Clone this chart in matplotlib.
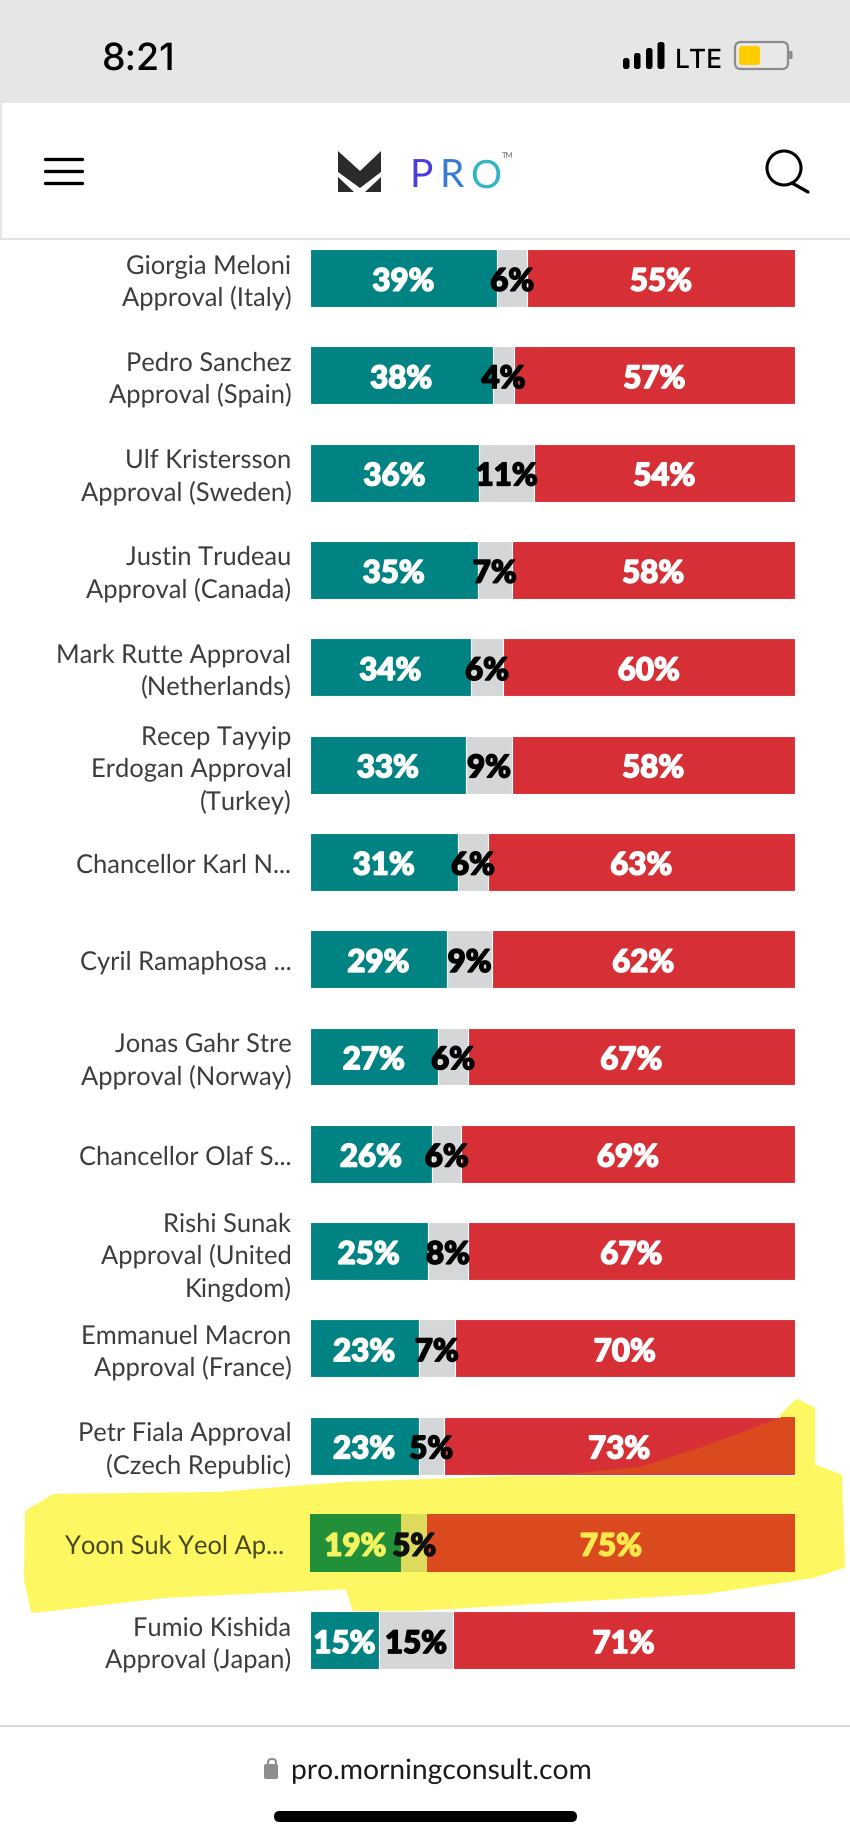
import matplotlib
matplotlib.use("Agg")
import matplotlib.pyplot as plt
from matplotlib.patches import Polygon, Rectangle, FancyBboxPatch, Circle
from matplotlib.transforms import ScaledTranslation
import matplotlib.patheffects as pe

plt.rcParams["text.hinting"] = "no_hinting"

leaders = ["Giorgia Meloni\nApproval (Italy)", "Pedro Sanchez\nApproval (Spain)", "Ulf Kristersson\nApproval (Sweden)",
           "Justin Trudeau\nApproval (Canada)", "Mark Rutte Approval\n(Netherlands)", "Recep Tayyip\nErdogan Approval\n(Turkey)",
           "Chancellor Karl N...", "Cyril Ramaphosa ...", "Jonas Gahr Stre\nApproval (Norway)", "Chancellor Olaf S...",
           "Rishi Sunak\nApproval (United\nKingdom)", "Emmanuel Macron\nApproval (France)", "Petr Fiala Approval\n(Czech Republic)",
           "Yoon Suk Yeol Ap...", "Fumio Kishida\nApproval (Japan)"]
approve_labels = [39, 38, 36, 35, 34, 33, 31, 29, 27, 26, 25, 23, 23, 19, 15]
unsure_labels = [6, 4, 11, 7, 6, 9, 6, 9, 6, 6, 8, 7, 5, 5, 15]
disapprove_labels = [55, 57, 54, 58, 60, 58, 63, 62, 67, 69, 67, 70, 73, 75, 71]
# bar lengths as measured on the picture (percent of the full bar)
approve_len = [38.7, 37.8, 35.0, 34.7, 33.3, 32.3, 30.6, 28.4, 26.5, 25.3, 24.4, 22.5, 22.5, 18.9, 14.4]
unsure_len = [6.2, 4.4, 11.3, 7.0, 6.6, 9.4, 6.2, 9.2, 6.2, 6.0, 8.3, 7.5, 5.2, 5.4, 15.1]
disapprove_len = [55.1, 57.8, 53.7, 58.3, 60.1, 58.3, 63.2, 62.4, 67.3, 68.7, 67.3, 70.0, 72.3, 75.7, 70.5]

TEAL, GREY, RED = "#008382", "#D4D6D8", "#D62F35"
TXT = "#3B3D40"
FONT = "Lato"
W, H = 850, 1840

fig = plt.figure(figsize=(W / 100, H / 100), dpi=100, facecolor="white")

# ---------- page chrome, in pixel coordinates ----------
bg = fig.add_axes([0, 0, 1, 1], zorder=0)
bg.set_xlim(0, W); bg.set_ylim(H, 0); bg.axis("off")
bg.add_patch(Rectangle((0, 0), W, 104, fc="#E6E6E6", ec="none"))
bg.add_patch(Rectangle((0, 104), 2, 136, fc="#E6E6E6", ec="none"))
bg.add_patch(Rectangle((0, 239), W, 2, fc="#E2E3E4", ec="none"))
bg.add_patch(Rectangle((0, 1726), W, 2, fc="#D9D9D9", ec="none"))

bg.text(138.5, 57, "8:21", fontsize=27, family="Inter", weight="medium", color="black", ha="center", va="center_baseline")
for x0, x1, top in [(623, 629.5, 59), (634, 640.5, 54), (646, 652.5, 49), (657.5, 664.5, 43)]:
    bg.add_patch(FancyBboxPatch((x0 + 2, top + 2), x1 - x0 - 4, 70 - top - 4, boxstyle="round,pad=2,rounding_size=2.5", fc="black", ec="none"))
bg.text(699, 58, "LTE", fontsize=19, family="Inter", weight="medium", color="black", ha="center", va="center_baseline")
bg.add_patch(FancyBboxPatch((739, 47), 45, 19, boxstyle="round,pad=4,rounding_size=6", fc="#E8E8E8", ec="#8C8C8C", lw=1.6))
bg.add_patch(FancyBboxPatch((741, 49), 17, 15, boxstyle="round,pad=2,rounding_size=3", fc="#FFCC00", ec="none"))
bg.add_patch(FancyBboxPatch((790, 53), 1.5, 6, boxstyle="round,pad=1,rounding_size=1", fc="#8C8C8C", ec="none"))

for y in (160, 172, 184):
    bg.plot([45, 82], [y, y], color="black", lw=2.4, solid_capstyle="round")
bg.add_patch(Polygon([(338, 152), (360, 172), (381, 152), (381, 173), (360, 189), (338, 173)], fc="#2B2B2B", ec="none"))
bg.add_patch(Polygon([(338, 178), (354, 193), (338, 193)], fc="#2B2B2B", ec="none"))
bg.add_patch(Polygon([(381, 178), (365, 193), (381, 193)], fc="#2B2B2B", ec="none"))
for x, s, c in [(421, "P", "#4B3DDB"), (452, "R", "#3A7BD2"), (486, "O", "#2FB6C0")]:
    bg.text(x, 173, s, fontsize=28, family=FONT, weight="normal", color=c, ha="center", va="center_baseline")
bg.text(508, 156, "TM", fontsize=5.5, family=FONT, color="#666666", ha="center", va="center")
bg.add_patch(Circle((784, 169), 17, fc="none", ec="black", lw=2.2))
bg.plot([792, 808], [184, 193], color="black", lw=2.4, solid_capstyle="round")

bg.add_patch(FancyBboxPatch((266, 1767), 10, 11, boxstyle="round,pad=2,rounding_size=2", fc="#8E8E8E", ec="none"))
bg.add_patch(FancyBboxPatch((268, 1760), 8, 10, boxstyle="round,pad=0,rounding_size=3.5", fc="none", ec="#8E8E8E", lw=1.5))
bg.text(291, 1769, "pro.morningconsult.com", fontsize=20.3, family=FONT, color="#1A1A1A", ha="left", va="center_baseline")
bg.add_patch(FancyBboxPatch((274, 1812), 303, 11, boxstyle="round,pad=0,rounding_size=5.5", fc="black", ec="none", mutation_aspect=1))

# highlighter stroke
highlight = Polygon([(27, 1513), (54, 1497), (217, 1495), (347, 1485), (540, 1478), (640, 1468), (705, 1447), (780, 1419),
                     (797, 1402), (813, 1410), (813, 1467), (840, 1477), (843, 1567), (813, 1577), (705, 1593), (379, 1612),
                     (355, 1612), (347, 1588), (163, 1597), (33, 1612), (26, 1580)],
                    fc="#FDF862", ec="#FDF862", lw=3, joinstyle="round")
bg.add_patch(highlight)

# ---------- chart ----------
top_px, bottom_px = 230.4, 1690.0
ax = fig.add_axes([309.5 / W, 1 - bottom_px / H, 485 / W, (bottom_px - top_px) / H], zorder=1)
ax.patch.set_alpha(0)
ypos = list(range(len(leaders)))
left2 = [a + u for a, u in zip(approve_len, unsure_len)]
BAR_H = 0.595
bar_kw = dict(height=BAR_H, edgecolor="white", linewidth=0.8)
b1 = ax.barh(ypos, approve_len, color=TEAL, **bar_kw)
b2 = ax.barh(ypos, unsure_len, left=approve_len, color=GREY, **bar_kw)
b3 = ax.barh(ypos, disapprove_len, left=left2, color=RED, **bar_kw)
ax.set_xlim(0, 100)
ax.set_ylim(len(leaders) - 0.5, -0.5)
for s in ax.spines.values():
    s.set_visible(False)
ax.xaxis.set_visible(False)
ax.set_yticks(ypos)
ax.set_yticklabels(leaders, fontsize=18.4, family=FONT, color=TXT, linespacing=1.38, ha="right")
ax.tick_params(axis="y", length=0, pad=13)
for lab, name in zip(ax.get_yticklabels(), leaders):
    lines = name.count("\n") + 1
    if lines > 1:  # the wrapped labels sit a little higher than centre
        up = {2: 3.0, 3: 1.5}[lines] / 100
        lab.set_transform(lab.get_transform() + ScaledTranslation(0, up, fig.dpi_scale_trans))

# highlighted row and the part of the stroke that crosses the Czech bar
yoon = leaders.index("Yoon Suk Yeol Ap...")
b1[yoon].set_facecolor("#229039"); b2[yoon].set_facecolor("#DEDB5C"); b3[yoon].set_facecolor("#DA4A1E")
b1[yoon].set_edgecolor("none"); b2[yoon].set_edgecolor("none"); b3[yoon].set_edgecolor("none")
lab = ax.get_yticklabels()[yoon]
lab.set_color("#48481C")
lab.set_transform(lab.get_transform() + ScaledTranslation(-7 / 100, 0, fig.dpi_scale_trans))
czech = leaders.index("Petr Fiala Approval\n(Czech Republic)")
over = ax.barh([czech], [disapprove_len[czech]], left=[left2[czech]], color="#DA4A1E", height=BAR_H - 0.01, edgecolor="none")
over[0].set_clip_path(highlight)

label_kw = dict(ha="center", va="center_baseline", fontsize=22.5, family=FONT, weight=900)


def put(x, i, value, color):
    ax.text(x, i + 0.012, f"{value}%", color=color,
            path_effects=[pe.withStroke(linewidth=1.1, foreground=color)], **label_kw)


for i in ypos:
    put(approve_len[i] / 2, i, approve_labels[i], "#F4F360" if i == yoon else "white")
    put(approve_len[i] + unsure_len[i] / 2, i, unsure_labels[i], "#101010" if i == yoon else "black")
    put(left2[i] + disapprove_len[i] / 2, i, disapprove_labels[i], "#FFE94C" if i == yoon else "white")

fig.savefig("out.png", dpi=100, facecolor="white")
